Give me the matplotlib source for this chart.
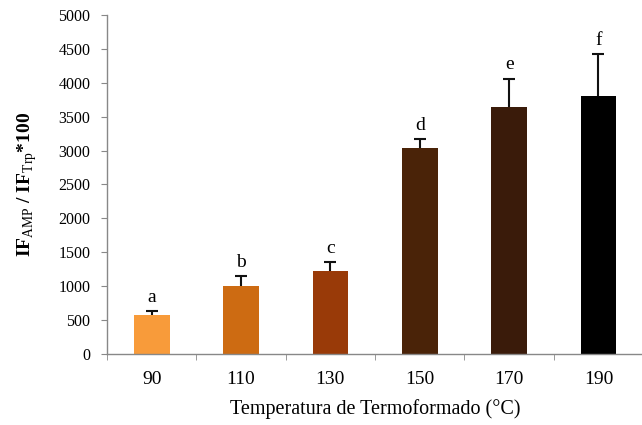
import matplotlib.pyplot as plt
import numpy as np

temps = ['90', '110', '130', '150', '170', '190']
ratio = [570, 1000, 1220, 3040, 3640, 3810]
ratio_err = [60, 150, 130, 130, 420, 610]
groups = ['a', 'b', 'c', 'd', 'e', 'f']
bar_colors = ['#f89b3a', '#cd6b12', '#993a08', '#4a2308', '#3a1b0a', '#000000']

plt.rcParams['font.family'] = ['Liberation Serif', 'DejaVu Serif']
plt.rcParams['mathtext.fontset'] = 'custom'
plt.rcParams['mathtext.rm'] = 'Liberation Serif'
plt.rcParams['mathtext.bf'] = 'Liberation Serif:bold'

fig = plt.figure(figsize=(6.42, 4.25), dpi=100)
ax = fig.add_axes([0.1667, 0.167, 0.835, 0.798])

x = np.arange(len(temps))
ax.bar(x, ratio, width=0.4, color=bar_colors)
eb = ax.errorbar(x, ratio, yerr=[np.zeros(len(ratio)), ratio_err], fmt='none',
                 ecolor='#111111', elinewidth=1.5, capsize=4, capthick=1.5)
# solo la barra de error superior
eb[1][0].set_visible(False)

# letras de significancia encima de cada barra
for xi, v, e, g in zip(x, ratio, ratio_err, groups):
    ax.text(xi, v + e + 80, g, ha='center', va='bottom', fontsize=14)

ax.set_xlim(-0.5, len(temps) - 0.5)
ax.set_ylim(0, 5000)
ax.set_yticks(np.arange(0, 5001, 500))
ax.set_xticks(x)
ax.set_xticklabels(temps, fontsize=14)
ax.set_xticks(np.arange(-0.5, len(temps)), minor=True)
ax.tick_params(axis='x', which='major', length=0, pad=12)
ax.tick_params(axis='x', which='minor', length=4, direction='out', color='#888888')
ax.tick_params(axis='y', labelsize=11.5, length=4, color='#888888', pad=8)

for side in ['top', 'right']:
    ax.spines[side].set_visible(False)
for side in ['left', 'bottom']:
    ax.spines[side].set_color('#888888')
    ax.spines[side].set_linewidth(1.0)

ax.set_xlabel('Temperatura de Termoformado (°C)', fontsize=14.5, labelpad=8)
ax.set_ylabel(r'$\mathbf{IF}_{\mathrm{AMP}}$ / $\mathbf{IF}_{\mathrm{Trp}}$*100',
              fontsize=14, fontweight='bold', labelpad=14)

fig.savefig('out.png', dpi=100)
